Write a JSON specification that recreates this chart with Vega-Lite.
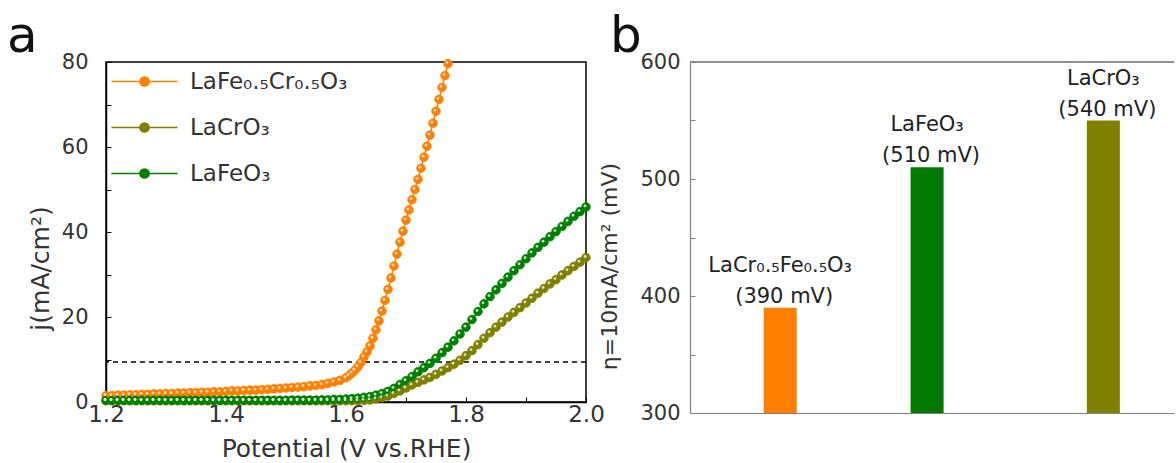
{
  "$schema": "https://vega.github.io/schema/vega-lite/v6.json",
  "autosize": {"type": "pad"},
  "padding": {"left": 6, "top": 11, "right": 0, "bottom": 0},
  "background": "white",
  "bounds": "flush",
  "spacing": 104,
  "config": {
    "font": "DejaVu Sans",
    "axis": {"grid": false, "labelFlush": false, "labelFontSize": 21, "labelColor": "#333333", "titleFontSize": 24, "titleFontWeight": "normal", "titleColor": "#333333", "labelFont": "DejaVu Sans", "titleFont": "DejaVu Sans"},
    "title": {"font": "DejaVu Sans", "fontWeight": "normal", "color": "#111111"}
  },
  "hconcat": [
    {
      "width": 480,
      "height": 340,
      "view": {"stroke": "#000000", "strokeWidth": 1.5},
      "title": {"text": "a", "anchor": "start", "frame": "group", "fontSize": 50, "dx": -99, "offset": -51, "baseline": "alphabetic"},
      "data": {"values": [
        {"v":1.20,"o":1.5,"c":0.3,"f":0.4},{"v":1.21,"o":1.5,"c":0.3,"f":0.4},{"v":1.22,"o":1.6,"c":0.3,"f":0.4},{"v":1.23,"o":1.6,"c":0.3,"f":0.4},{"v":1.24,"o":1.7,"c":0.3,"f":0.4},
        {"v":1.25,"o":1.7,"c":0.3,"f":0.4},{"v":1.26,"o":1.8,"c":0.3,"f":0.4},{"v":1.27,"o":1.8,"c":0.3,"f":0.4},{"v":1.28,"o":1.9,"c":0.3,"f":0.4},{"v":1.29,"o":1.9,"c":0.3,"f":0.4},
        {"v":1.30,"o":2.0,"c":0.3,"f":0.4},{"v":1.31,"o":2.0,"c":0.3,"f":0.4},{"v":1.32,"o":2.1,"c":0.3,"f":0.4},{"v":1.33,"o":2.1,"c":0.3,"f":0.4},{"v":1.34,"o":2.2,"c":0.3,"f":0.4},
        {"v":1.35,"o":2.2,"c":0.3,"f":0.4},{"v":1.36,"o":2.3,"c":0.3,"f":0.4},{"v":1.37,"o":2.3,"c":0.3,"f":0.4},{"v":1.38,"o":2.4,"c":0.3,"f":0.4},{"v":1.39,"o":2.4,"c":0.3,"f":0.4},
        {"v":1.40,"o":2.5,"c":0.3,"f":0.4},{"v":1.41,"o":2.6,"c":0.3,"f":0.4},{"v":1.42,"o":2.6,"c":0.3,"f":0.4},{"v":1.43,"o":2.7,"c":0.3,"f":0.4},{"v":1.44,"o":2.8,"c":0.3,"f":0.4},
        {"v":1.45,"o":2.8,"c":0.3,"f":0.4},{"v":1.46,"o":2.9,"c":0.3,"f":0.4},{"v":1.47,"o":3.0,"c":0.3,"f":0.4},{"v":1.48,"o":3.1,"c":0.3,"f":0.4},{"v":1.49,"o":3.2,"c":0.3,"f":0.4},
        {"v":1.50,"o":3.3,"c":0.3,"f":0.4},{"v":1.51,"o":3.4,"c":0.3,"f":0.45},{"v":1.52,"o":3.5,"c":0.3,"f":0.45},{"v":1.53,"o":3.6,"c":0.3,"f":0.45},{"v":1.54,"o":3.8,"c":0.3,"f":0.45},
        {"v":1.55,"o":3.9,"c":0.3,"f":0.45},{"v":1.56,"o":4.1,"c":0.3,"f":0.5},{"v":1.57,"o":4.4,"c":0.3,"f":0.5},{"v":1.58,"o":4.7,"c":0.3,"f":0.6},{"v":1.59,"o":5.1,"c":0.3,"f":0.6},
        {"v":1.60,"o":5.7,"c":0.3,"f":0.7},{"v":1.605,"o":6.2},{"v":1.61,"o":6.8,"c":0.3,"f":0.8},{"v":1.615,"o":7.5},{"v":1.62,"o":8.3,"c":0.3,"f":0.9},
        {"v":1.625,"o":9.3},{"v":1.63,"o":10.6,"c":0.4,"f":1.1},{"v":1.635,"o":11.8},{"v":1.64,"o":13.2,"c":0.5,"f":1.3},{"v":1.645,"o":15.0},
        {"v":1.65,"o":17.0,"c":0.7,"f":1.6},{"v":1.655,"o":19.1},{"v":1.66,"o":21.4,"c":1.0,"f":2.0},{"v":1.665,"o":23.9},{"v":1.67,"o":26.5,"c":1.4,"f":2.5},
        {"v":1.675,"o":29.2},{"v":1.68,"o":32.0,"c":2.0,"f":3.2},{"v":1.685,"o":34.8},{"v":1.69,"o":37.6,"c":2.6,"f":4.1},{"v":1.695,"o":40.2},
        {"v":1.70,"o":42.8,"c":3.3,"f":5.0},{"v":1.705,"o":45.2},{"v":1.71,"o":47.6,"c":4.0,"f":6.0},{"v":1.715,"o":50.0},{"v":1.72,"o":52.4,"c":4.6,"f":7.1},
        {"v":1.725,"o":55.0},{"v":1.73,"o":57.6,"c":5.2,"f":8.1},{"v":1.735,"o":60.2},{"v":1.74,"o":62.8,"c":5.8,"f":9.1},{"v":1.745,"o":65.6},
        {"v":1.75,"o":68.4,"c":6.5,"f":10.3},{"v":1.755,"o":71.2},{"v":1.76,"o":74.0,"c":7.3,"f":11.6},{"v":1.765,"o":76.8},{"v":1.77,"o":79.6,"c":8.1,"f":12.9},
        {"v":1.78,"c":8.9,"f":14.4},{"v":1.79,"c":9.8,"f":16.0},{"v":1.80,"c":10.9,"f":17.6},{"v":1.81,"c":12.1,"f":19.4},{"v":1.82,"c":13.5,"f":21.3},
        {"v":1.83,"c":15.0,"f":23.1},{"v":1.84,"c":16.3,"f":24.8},{"v":1.85,"c":17.6,"f":26.4},{"v":1.86,"c":18.8,"f":27.9},{"v":1.87,"c":20.0,"f":29.4},
        {"v":1.88,"c":21.1,"f":30.9},{"v":1.89,"c":22.2,"f":32.3},{"v":1.90,"c":23.3,"f":33.7},{"v":1.91,"c":24.4,"f":35.1},{"v":1.92,"c":25.6,"f":36.4},
        {"v":1.93,"c":26.7,"f":37.6},{"v":1.94,"c":27.8,"f":38.9},{"v":1.95,"c":28.8,"f":40.1},{"v":1.96,"c":29.9,"f":41.3},{"v":1.97,"c":30.9,"f":42.5},
        {"v":1.98,"c":31.9,"f":43.7},{"v":1.99,"c":32.9,"f":44.8},{"v":2.00,"c":34.0,"f":45.9}
      ]},
      "transform": [
        {"fold": ["o", "c", "f"], "as": ["k", "j"]},
        {"filter": "isValid(datum.j)"}
      ],
      "layer": [
        {
          "data": {"values": [{"j": 9.4}]},
          "transform": [],
          "mark": {"type": "rule", "color": "#000000", "strokeWidth": 1.5, "strokeDash": [5, 4]},
          "encoding": {"y": {"field": "j", "type": "quantitative"}}
        },
        {
          "mark": {"type": "line", "strokeWidth": 1.5},
          "encoding": {
            "x": {"field": "v", "type": "quantitative", "scale": {"domain": [1.2, 2.0], "nice": false, "zero": false},
              "axis": {"values": [1.2,1.3,1.4,1.5,1.6,1.7,1.8,1.9,2.0], "labelExpr": "round(datum.value*10) % 2 == 0 ? format(datum.value, '.1f') : ''", "labelFontSize": 23, "tickSize": -5, "tickColor": "#000000", "domainColor": "#000000", "domainWidth": 1.5, "labelPadding": 6, "title": "Potential (V vs.RHE)", "titleFontSize": 25, "titlePadding": 10}},
            "y": {"field": "j", "type": "quantitative", "scale": {"domain": [0, 80], "nice": false},
              "axis": {"values": [0,10,20,30,40,50,60,70,80], "labelExpr": "datum.value % 20 == 0 ? datum.label : ''", "tickSize": -5, "tickColor": "#000000", "domainColor": "#000000", "domainWidth": 1.5, "labelPadding": 23, "title": "j(mA/cm²)", "titleFontSize": 25, "titlePadding": 8, "titleY": 206}},
            "stroke": {"field": "k", "type": "nominal", "scale": {"domain": ["o", "c", "f"], "range": ["#FF8000", "#808000", "#008000"]},
              "legend": {"orient": "none", "legendX": 27, "legendY": 8, "title": null, "padding": 0, "symbolType": "M-3.6,0H3.6M-0.5,0A0.5,0.5 0 1,1 0.5,0A0.5,0.5 0 1,1 -0.5,0Z", "symbolSize": 339, "symbolStrokeWidth": 1.5, "labelFont": "DejaVu Sans", "labelFontSize": 23, "labelColor": "#333333", "labelOffset": 34, "rowPadding": 22, "labelExpr": "datum.value == 'o' ? 'LaFe₀.₅Cr₀.₅O₃' : datum.value == 'c' ? 'LaCrO₃' : 'LaFeO₃'"}}
          }
        },
        {
          "mark": {"type": "point", "filled": true, "size": 75, "strokeWidth": 0.8, "opacity": 1, "shape": "circle"},
          "encoding": {
            "x": {"field": "v", "type": "quantitative"},
            "y": {"field": "j", "type": "quantitative"},
            "fill": {"field": "k", "type": "nominal", "scale": {"domain": ["o", "c", "f"], "range": ["#FF8000", "#808000", "#008000"]},
              "legend": {"orient": "none", "legendX": 27, "legendY": 8, "title": null, "padding": 0, "symbolType": "M-3.6,0H3.6M-0.5,0A0.5,0.5 0 1,1 0.5,0A0.5,0.5 0 1,1 -0.5,0Z", "symbolSize": 339, "symbolStrokeWidth": 1.5, "labelFont": "DejaVu Sans", "labelFontSize": 23, "labelColor": "#333333", "labelOffset": 34, "rowPadding": 22, "labelExpr": "datum.value == 'o' ? 'LaFe₀.₅Cr₀.₅O₃' : datum.value == 'c' ? 'LaCrO₃' : 'LaFeO₃'"}},
            "stroke": {"field": "k", "type": "nominal"}
          }
        },
        {
          "mark": {"type": "point", "filled": true, "size": 8, "opacity": 0.75, "color": "#ffffff", "xOffset": -1, "yOffset": -1},
          "encoding": {
            "x": {"field": "v", "type": "quantitative"},
            "y": {"field": "j", "type": "quantitative"}
          }
        }
      ]
    },
    {
      "width": 484,
      "height": 351,
      "view": {"stroke": null},
      "title": {"text": "b", "anchor": "start", "frame": "group", "fontSize": 50, "dx": -80, "offset": -51, "baseline": "alphabetic"},
      "data": {"values": [
        {"m": "LaCr₀.₅Fe₀.₅O₃", "lab": "(390 mV)", "p": 1, "eta": 390, "c": "o"},
        {"m": "LaFeO₃", "lab": "(510 mV)", "p": 2, "eta": 510, "c": "f"},
        {"m": "LaCrO₃", "lab": "(540 mV)", "p": 3.2, "eta": 550, "c": "c"}
      ]},
      "layer": [
        {
          "mark": {"type": "bar", "size": 33},
          "encoding": {
            "x": {"field": "p", "type": "quantitative", "scale": {"domain": [0.42, 3.647], "nice": false, "zero": false},
              "axis": {"labels": false, "ticks": false, "title": null, "domainColor": "#808080", "domainWidth": 1.2}},
            "y": {"field": "eta", "type": "quantitative", "scale": {"domain": [300, 600], "nice": false, "zero": false},
              "axis": {"values": [300,350,400,450,500,550,600], "labelExpr": "datum.value % 100 == 0 ? datum.label : ''", "tickSize": -5, "tickColor": "#808080", "domainColor": "#808080", "domainWidth": 1.2, "labelPadding": 15, "title": "η=10mA/cm² (mV)", "titleFontSize": 22, "titlePadding": 18, "titleY": 204}},
            "y2": {"datum": 300},
            "color": {"field": "c", "type": "nominal", "scale": {"domain": ["o", "f", "c"], "range": ["#FF8000", "#007A00", "#7F7F00"]}, "legend": null}
          }
        },
        {
          "mark": {"type": "rule", "color": "#808080", "strokeWidth": 1.2},
          "encoding": {"y": {"datum": 600}}
        },
        {
          "mark": {"type": "text", "font": "DejaVu Sans", "fontSize": 21, "color": "#222222", "baseline": "middle", "dy": -42},
          "encoding": {
            "x": {"field": "p", "type": "quantitative"},
            "y": {"field": "eta", "type": "quantitative"},
            "text": {"field": "m"}
          }
        },
        {
          "mark": {"type": "text", "font": "DejaVu Sans", "fontSize": 21, "color": "#222222", "baseline": "middle", "dy": -11, "dx": 4},
          "encoding": {
            "x": {"field": "p", "type": "quantitative"},
            "y": {"field": "eta", "type": "quantitative"},
            "text": {"field": "lab"}
          }
        }
      ]
    }
  ]
}
